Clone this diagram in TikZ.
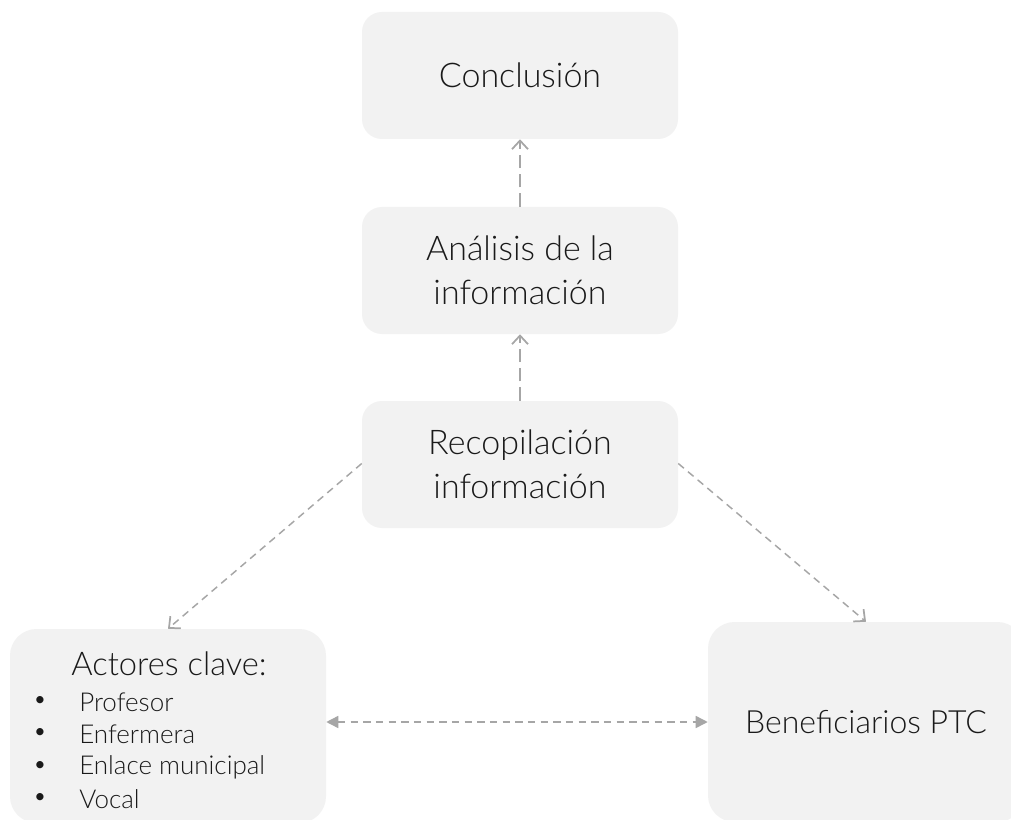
\documentclass[tikz,border=0pt]{standalone}
\usepackage{fontspec}
\setmainfont{Lato Light}
\usetikzlibrary{arrows.meta}
\definecolor{boxfill}{HTML}{F2F2F2}
\definecolor{linegray}{HTML}{A6A6A6}
\definecolor{txt}{HTML}{1A1A1A}
\tikzset{
  stepbox/.style={fill=boxfill, draw=none, rounded corners=15pt, minimum width=237pt, minimum height=95.25pt, align=center, text=txt, font=\fontsize{25.5}{33}\selectfont, inner sep=0pt},
  bigbox/.style={stepbox, rounded corners=20pt},
  vlink/.style={draw=linegray, line width=1.1pt, dash pattern=on 10pt off 4.5pt, -{Straight Barb[length=6.5pt,width=12pt,line width=1.3pt]}},
  dlink/.style={draw=linegray, line width=1.1pt, dash pattern=on 5.5pt off 4pt, -{Straight Barb[length=6.5pt,width=12pt,line width=1.3pt]}},
  hlink/.style={draw=linegray, line width=1.1pt, dash pattern=on 5.5pt off 4pt, {Triangle[length=9pt,width=9pt]}-{Triangle[length=9pt,width=9pt]}},
  itemtxt/.style={anchor=west, text=txt, font=\fontsize{19.5}{22}\selectfont, inner sep=0pt},
  bul/.style={text=txt, font=\fontsize{18.5}{22}\selectfont, inner sep=0pt}
}
\begin{document}
\begin{tikzpicture}[x=0.75pt,y=-0.75pt]
\useasboundingbox (0,0) rectangle (1011,820);
\clip (0,0) rectangle (1011,820);
\fill[white] (0,0) rectangle (1011,820);
\node[stepbox] (conc) at (520,75.5) {Conclusión};
\node[stepbox] (anal) at (520,270.5) {Análisis de la\\información};
\node[stepbox] (recop) at (520,464.5) {Recopilación\\información};
\node[bigbox, minimum height=145.5pt] (act) at (168,726) {};
\node[bigbox, minimum height=150pt, font=\fontsize{24}{27}\selectfont] (ben) at (866,722) {\raisebox{-4pt}{Beneficiarios PTC}};
\node[text=txt, font=\fontsize{24.5}{27}\selectfont, inner sep=0pt] (acttitle) at (169,664) {Actores clave:};
\node[bul] (b1) at (40,702) {•};
\node[itemtxt] (i1) at (79,702) {Profesor};
\node[bul] (b2) at (40,734) {•};
\node[itemtxt] (i2) at (79,734) {Enfermera};
\node[bul] (b3) at (40,767) {•};
\node[itemtxt] (i3) at (79,767) {Enlace municipal};
\node[bul] (b4) at (40,799) {•};
\node[itemtxt] (i4) at (79,799) {Vocal};
\draw[vlink] (anal.north) -- (conc.south);
\draw[vlink] (recop.north) -- (anal.south);
\draw[dlink] ([yshift=0.75pt]recop.west) -- (act.north);
\draw[dlink] ([yshift=0.75pt]recop.east) -- (ben.north);
\draw[hlink] (act.east|-ben.west) -- (ben.west);
\end{tikzpicture}
\end{document}
